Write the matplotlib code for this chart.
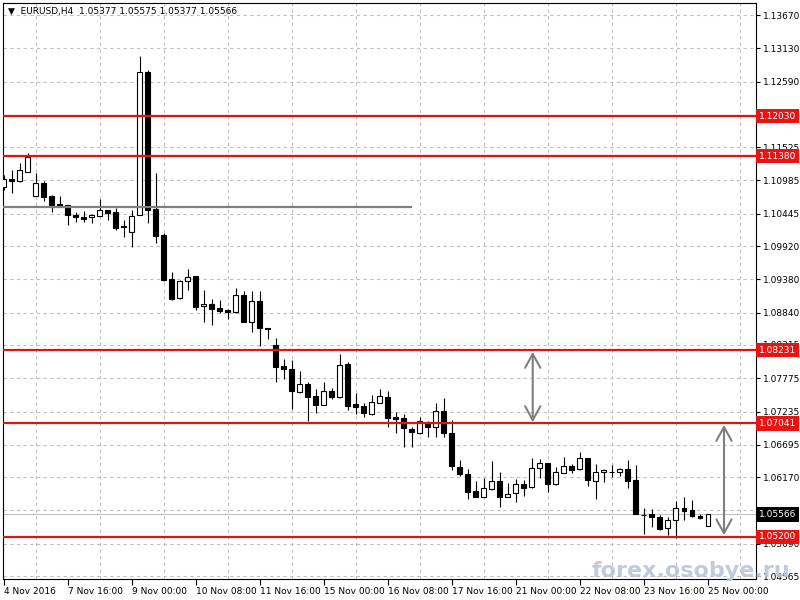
import matplotlib
matplotlib.use('Agg')
import matplotlib.pyplot as plt
import matplotlib.transforms as mtransforms

# EURUSD H4 candles
opens = [1.10879, 1.11009, 1.10976, 1.11122, 1.10733, 1.10944, 1.10733, 1.10603, 1.10587, 1.10425,
         1.10392, 1.10392, 1.10408, 1.10506, 1.10473, 1.10246, 1.10149, 1.10425, 1.12745, 1.10522,
         1.10100, 1.09386, 1.09077, 1.09353, 1.09434, 1.08948, 1.08980, 1.08915, 1.08883, 1.08850,
         1.09126, 1.08688, 1.09029, 1.08591, 1.08315, 1.07974, 1.07925, 1.07552, 1.07682, 1.07487,
         1.07341, 1.07568, 1.07471, 1.08006, 1.07357, 1.07325, 1.07195, 1.07373, 1.07471, 1.07146,
         1.07130, 1.06951, 1.06886, 1.07049, 1.06984, 1.07243, 1.06886, 1.06335, 1.06221, 1.05945,
         1.05848, 1.05978, 1.06107, 1.05848, 1.05913, 1.06059, 1.06010, 1.06318, 1.06400, 1.06059,
         1.06237, 1.06351, 1.06302, 1.06481, 1.06107, 1.06253, 1.06253, 1.06253, 1.06302, 1.06124,
         1.05556, 1.05572, 1.05523, 1.05345, 1.05474, 1.05669, 1.05637, 1.05539, 1.05377]
highs = [1.11074, 1.11155, 1.11268, 1.11431, 1.11106, 1.10976, 1.10749, 1.10733, 1.10587, 1.10473,
         1.10490, 1.10441, 1.10684, 1.10506, 1.10538, 1.10343, 1.10506, 1.13005, 1.12778, 1.11106,
         1.10132, 1.09499, 1.09370, 1.09548, 1.09434, 1.09207, 1.09061, 1.09045, 1.08899, 1.09240,
         1.09191, 1.09191, 1.09191, 1.08591, 1.08428, 1.08087, 1.08071, 1.07893, 1.07714, 1.07601,
         1.07714, 1.07617, 1.08169, 1.08039, 1.07536, 1.07373, 1.07503, 1.07601, 1.07568, 1.07227,
         1.07195, 1.06984, 1.07146, 1.07081, 1.07373, 1.07454, 1.07097, 1.06448, 1.06302, 1.06107,
         1.06156, 1.06432, 1.06253, 1.06075, 1.06140, 1.06124, 1.06481, 1.06464, 1.06400, 1.06335,
         1.06497, 1.06383, 1.06578, 1.06481, 1.06383, 1.06302, 1.06367, 1.06318, 1.06448, 1.06367,
         1.05669, 1.05653, 1.05556, 1.05523, 1.05783, 1.05848, 1.05799, 1.05572, 1.05575]
lows = [1.10830, 1.10782, 1.10960, 1.11122, 1.10733, 1.10652, 1.10473, 1.10571, 1.10262, 1.10311,
        1.10311, 1.10295, 1.10408, 1.10343, 1.10181, 1.10067, 1.09905, 1.10425, 1.10295, 1.09970,
        1.09353, 1.09045, 1.09061, 1.09207, 1.08883, 1.08688, 1.08639, 1.08834, 1.08737, 1.08834,
        1.08688, 1.08526, 1.08298, 1.08412, 1.07714, 1.07763, 1.07276, 1.07536, 1.07081, 1.07211,
        1.07341, 1.07438, 1.07454, 1.07260, 1.07195, 1.07146, 1.07179, 1.07373, 1.06984, 1.06886,
        1.06659, 1.06659, 1.06870, 1.06822, 1.06822, 1.06822, 1.06286, 1.06189, 1.05815, 1.05848,
        1.05848, 1.05961, 1.05685, 1.05848, 1.05767, 1.05864, 1.05994, 1.06156, 1.05929, 1.06042,
        1.06237, 1.06237, 1.06286, 1.06026, 1.05815, 1.06091, 1.06172, 1.06189, 1.05994, 1.05572,
        1.05247, 1.05361, 1.05312, 1.05231, 1.05182, 1.05474, 1.05523, 1.05491, 1.05377]
closes = [1.11009, 1.10976, 1.11155, 1.11366, 1.10944, 1.10717, 1.10587, 1.10571, 1.10425, 1.10392,
          1.10360, 1.10425, 1.10506, 1.10457, 1.10214, 1.10230, 1.10408, 1.12745, 1.10506, 1.10084,
          1.09370, 1.09061, 1.09353, 1.09418, 1.08931, 1.08980, 1.08899, 1.08866, 1.08850, 1.09126,
          1.08688, 1.09029, 1.08591, 1.08574, 1.07958, 1.07925, 1.07568, 1.07682, 1.07471, 1.07341,
          1.07568, 1.07471, 1.07990, 1.07325, 1.07308, 1.07211, 1.07390, 1.07487, 1.07130, 1.07114,
          1.06968, 1.06903, 1.07081, 1.06984, 1.07243, 1.06886, 1.06351, 1.06221, 1.05929, 1.05848,
          1.05994, 1.06107, 1.05848, 1.05896, 1.06059, 1.05994, 1.06318, 1.06400, 1.06059, 1.06253,
          1.06351, 1.06286, 1.06481, 1.06124, 1.06253, 1.06286, 1.06253, 1.06302, 1.06107, 1.05572,
          1.05556, 1.05523, 1.05328, 1.05474, 1.05669, 1.05620, 1.05539, 1.05507, 1.05566]

time_labels = ["4 Nov 2016", "7 Nov 16:00", "9 Nov 00:00", "10 Nov 08:00", "11 Nov 16:00",
               "15 Nov 00:00", "16 Nov 08:00", "17 Nov 16:00", "21 Nov 00:00", "22 Nov 08:00",
               "23 Nov 16:00", "25 Nov 00:00"]
price_ticks = [1.13670, 1.13130, 1.12590, 1.12050, 1.11525, 1.10985, 1.10445, 1.09920, 1.09380,
               1.08840, 1.08315, 1.07775, 1.07235, 1.06695, 1.06170, 1.05630, 1.05090, 1.04565]
levels = [1.12030, 1.11380, 1.08231, 1.07041, 1.05200]
last_price = 1.05566
gray_level = 1.10559
gray_end = 51
arrows = [(66.1, 1.08205, 1.07060), (90.0, 1.07020, 1.05225)]

plt.rcParams['font.family'] = 'DejaVu Sans'
fig = plt.figure(figsize=(8, 6), dpi=100)
ax = fig.add_axes([3 / 800, 21 / 600, 753 / 800, 576 / 600])

n = len(opens)
idx = list(range(n))
bottoms = [min(o, c) for o, c in zip(opens, closes)]
heights = [abs(c - o) for o, c in zip(opens, closes)]
colors = ['white' if c >= o else 'black' for o, c in zip(opens, closes)]

ax.vlines(idx, lows, highs, color='black', lw=0.8, zorder=3)
ax.bar(idx, heights, bottom=bottoms, width=0.62, color=colors, edgecolor='black',
       linewidth=0.8, zorder=4)

# levels
trans = mtransforms.blended_transform_factory(ax.transAxes, ax.transData)
for lv in levels:
    ax.axhline(lv, color='#dc1414', lw=1.6, zorder=5)
    ax.text(1.004, lv, f'{lv:.5f}', transform=trans, color='white', fontsize=6.5,
            va='center', ha='left', zorder=10, clip_on=False,
            bbox=dict(boxstyle='square,pad=0.3', fc='#e81414', ec='none'))

ax.axhline(last_price, color='#c0c0c0', lw=0.8, zorder=2)
ax.text(1.004, last_price, f'{last_price:.5f}', transform=trans, color='white', fontsize=6.5,
        va='center', ha='left', zorder=10, clip_on=False,
        bbox=dict(boxstyle='square,pad=0.3', fc='black', ec='none'))

ax.hlines(gray_level, -1, gray_end, color='#808080', lw=1.6, zorder=5)

for ax_x, top, bot in arrows:
    ax.annotate('', xy=(ax_x, bot), xytext=(ax_x, top),
                arrowprops=dict(arrowstyle='<->,head_length=1.0,head_width=0.55',
                                color='#808080', lw=1.5, shrinkA=0, shrinkB=0), zorder=6)

ax.set_xlim(-0.1, 94.0)
ax.set_ylim(1.04517, 1.13865)

ax.set_yticks(price_ticks)
ax.set_yticklabels([f'{p:.5f}' for p in price_ticks])
ax.yaxis.tick_right()
ax.tick_params(axis='y', length=3, pad=2, labelsize=6.5, width=0.8)

ax.set_xticks(list(range(0, n, 8)))
ax.set_xticklabels(time_labels, ha='left')
ax.set_xticks(list(range(0, 96, 4)), minor=True)
ax.tick_params(axis='x', which='major', length=4, pad=2, labelsize=6.5, width=0.8)
ax.tick_params(axis='x', which='minor', length=0)

ax.grid(axis='y', which='major', color='#c0c0c0', linestyle=(0, (3, 3)), lw=0.8)
ax.grid(axis='x', which='minor', color='#c0c0c0', linestyle=(0, (3, 3)), lw=0.8)
ax.set_axisbelow(True)
for s in ax.spines.values():
    s.set_linewidth(0.8)

ax.text(0.006, 0.994, '\u25bc  EURUSD,H4  1.05377 1.05575 1.05377 1.05566', transform=ax.transAxes,
        va='top', ha='left', fontsize=6.5)

fig.text(0.74, 0.048, 'forex.osobye.ru', fontsize=16, fontweight='bold', color='#b9c6d8',
         va='center', ha='left', zorder=20, alpha=0.9)

fig.savefig('out.png', dpi=100)
